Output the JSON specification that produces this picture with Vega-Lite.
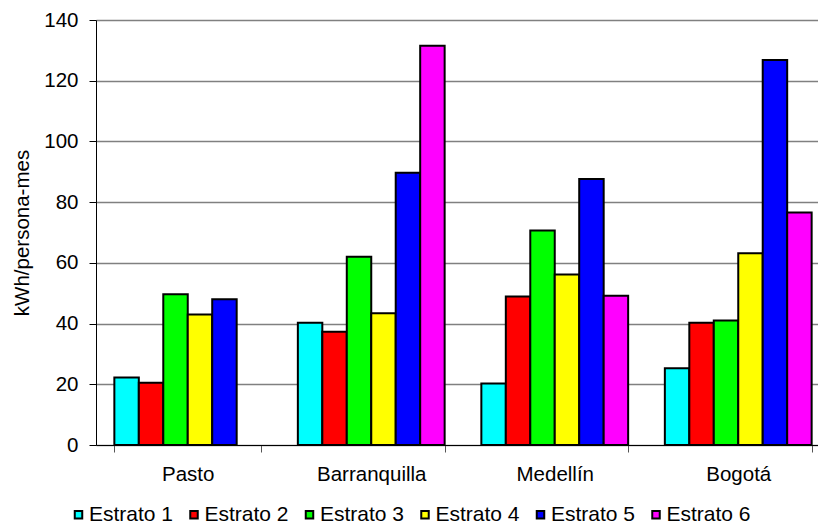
{
  "$schema": "https://vega.github.io/schema/vega-lite/v6.json",
  "description": "Consumo de energía por estrato en cuatro ciudades.",
  "autosize": {"type": "none"},
  "padding": {"left": 96, "top": 20, "right": 0, "bottom": 81},
  "width": 722,
  "height": 425,
  "data": {
    "values": [
      {"ciudad": "Pasto", "estrato": "Estrato 1", "kwh": 22.2},
      {"ciudad": "Pasto", "estrato": "Estrato 2", "kwh": 20.5},
      {"ciudad": "Pasto", "estrato": "Estrato 3", "kwh": 49.7},
      {"ciudad": "Pasto", "estrato": "Estrato 4", "kwh": 43.0},
      {"ciudad": "Pasto", "estrato": "Estrato 5", "kwh": 48.0},
      {"ciudad": "Barranquilla", "estrato": "Estrato 1", "kwh": 40.3},
      {"ciudad": "Barranquilla", "estrato": "Estrato 2", "kwh": 37.3},
      {"ciudad": "Barranquilla", "estrato": "Estrato 3", "kwh": 62.0},
      {"ciudad": "Barranquilla", "estrato": "Estrato 4", "kwh": 43.4},
      {"ciudad": "Barranquilla", "estrato": "Estrato 5", "kwh": 89.7},
      {"ciudad": "Barranquilla", "estrato": "Estrato 6", "kwh": 131.5},
      {"ciudad": "Medellín", "estrato": "Estrato 1", "kwh": 20.3},
      {"ciudad": "Medellín", "estrato": "Estrato 2", "kwh": 48.9},
      {"ciudad": "Medellín", "estrato": "Estrato 3", "kwh": 70.7},
      {"ciudad": "Medellín", "estrato": "Estrato 4", "kwh": 56.2},
      {"ciudad": "Medellín", "estrato": "Estrato 5", "kwh": 87.6},
      {"ciudad": "Medellín", "estrato": "Estrato 6", "kwh": 49.2},
      {"ciudad": "Bogotá", "estrato": "Estrato 1", "kwh": 25.3},
      {"ciudad": "Bogotá", "estrato": "Estrato 2", "kwh": 40.3},
      {"ciudad": "Bogotá", "estrato": "Estrato 3", "kwh": 41.0},
      {"ciudad": "Bogotá", "estrato": "Estrato 4", "kwh": 63.2},
      {"ciudad": "Bogotá", "estrato": "Estrato 5", "kwh": 126.8},
      {"ciudad": "Bogotá", "estrato": "Estrato 6", "kwh": 76.6}
    ]
  },
  "mark": {"type": "bar", "stroke": "black", "strokeWidth": 2},
  "encoding": {
    "x": {
      "field": "ciudad",
      "type": "nominal",
      "sort": ["Pasto", "Barranquilla", "Medellín", "Bogotá"],
      "scale": {"rangeMax": 734, "paddingInner": 0.2, "paddingOuter": 0.1},
      "axis": {
        "title": null,
        "labelAngle": 0,
        "tickBand": "extent",
        "tickSize": 7,
        "tickColor": "#555555",
        "domainColor": "black",
        "labelPadding": 12,
        "grid": false
      }
    },
    "xOffset": {
      "field": "estrato",
      "type": "nominal",
      "scale": {"paddingInner": 0, "paddingOuter": 0}
    },
    "y": {
      "field": "kwh",
      "type": "quantitative",
      "scale": {"domain": [0, 140], "nice": false},
      "axis": {
        "title": "kWh/persona-mes",
        "values": [0, 20, 40, 60, 80, 100, 120, 140],
        "grid": true,
        "gridColor": "#808080",
        "gridWidth": 1.3,
        "domainColor": "black",
        "tickColor": "black",
        "tickSize": 7,
        "labelPadding": 11,
        "titlePadding": 11
      }
    },
    "color": {
      "field": "estrato",
      "type": "nominal",
      "scale": {
        "domain": ["Estrato 1", "Estrato 2", "Estrato 3", "Estrato 4", "Estrato 5", "Estrato 6"],
        "range": ["#00FFFF", "#FF0000", "#00FF00", "#FFFF00", "#0000FF", "#FF00FF"]
      },
      "legend": {
        "title": null,
        "orient": "none",
        "direction": "horizontal",
        "legendX": -28,
        "legendY": 484,
        "symbolType": "square",
        "symbolSize": 56,
        "symbolStrokeColor": "black",
        "symbolStrokeWidth": 2,
        "symbolOpacity": 1,
        "labelOffset": 0,
        "columnPadding": 9.5
      }
    }
  },
  "config": {
    "font": "Liberation Sans",
    "view": {"stroke": null},
    "axis": {
      "labelFontSize": 20.5,
      "labelColor": "black",
      "titleFontSize": 20.5,
      "titleFontWeight": "normal",
      "titleColor": "black"
    },
    "legend": {"labelFontSize": 21, "labelColor": "black"}
  }
}
